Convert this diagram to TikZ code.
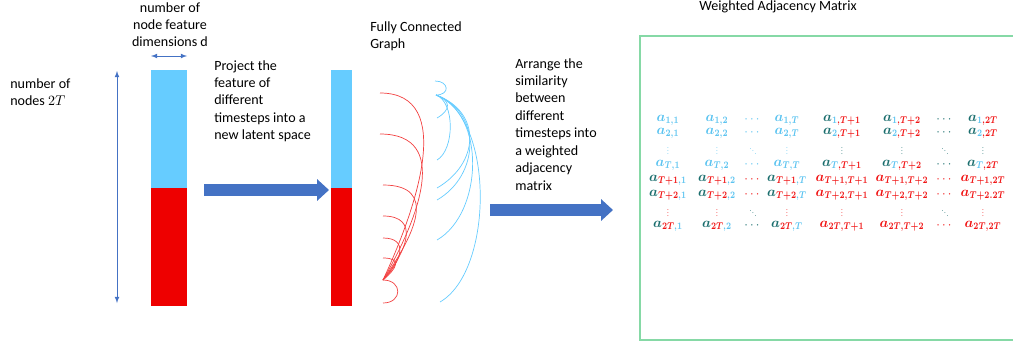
\documentclass[tikz,border=0pt]{standalone}
\usepackage{fontspec}
\setmainfont{Carlito}
\usepackage{amsmath}
\usepackage{bm}
\usetikzlibrary{positioning}
\usetikzlibrary{arrows.meta}
\definecolor{barblue}{HTML}{66CCFF}
\definecolor{barred}{HTML}{EE0000}
\definecolor{cb}{HTML}{5BC3F0}
\definecolor{cr}{HTML}{F01414}
\definecolor{ct}{HTML}{1B6E6E}
\definecolor{arrblue}{HTML}{4472C4}
\definecolor{boxgreen}{HTML}{86D9A6}
\newcommand{\ent}[5]{\textcolor{#1}{\bm{a}}_{\scalebox{0.8}[1]{$\scriptstyle\textcolor{#2}{\bm{#3}}\textcolor{#4}{\bm{#5}}$}}}
\newcommand{\vd}{\scalebox{0.55}{$\vdots$}}
\newcommand{\dd}{\scalebox{0.55}{$\ddots$}}

\begin{document}
\begin{tikzpicture}[x=0.025cm,y=-0.025cm,
  bb/.style={fill=barblue,inner sep=0,minimum height=2.95cm},
  rb/.style={fill=barred,inner sep=0,minimum height=2.95cm},
  txt/.style={align=left,anchor=north west,inner sep=0,font=\fontsize{10}{12.4}\selectfont},
  fa/.style={draw=arrblue,line width=0.28cm,-{Triangle[length=0.3cm,width=0.53cm]}},
  ma/.style={draw=arrblue,line width=0.5pt,latex-latex},
  redge/.style={draw=barred!75,line width=0.5pt},
  bedge/.style={draw=barblue,line width=0.5pt},
  me/.style={inner sep=0,font=\fontsize{10}{11}\selectfont},
  dt/.style={inner sep=0,font=\fontsize{9}{11}\selectfont}]
\useasboundingbox (0,0) rectangle (1013,343);

% input features
\node (in2) [rb,minimum width=0.9cm] at (169,247) {};
\node (in1) [bb,minimum width=0.9cm,above=-0.4pt of in2] {};
\node (dimlbl) [txt,align=center,anchor=north] at (170,2) {number of\\node feature\\dimensions d};
\node (nodelbl) [txt] at (10,78) {number of\\nodes $2T$};
\coordinate (dl) at (151,56);
\coordinate (dr) at (187,56);
\coordinate (nt) at (117,71);
\coordinate (nb) at (117,303);
\draw[ma] (dl) -- (dr);
\draw[ma] (nt) -- (nb);

% projection
\node (projlbl) [txt] at (214,60) {Project the\\feature of\\different\\timesteps into a\\new latent space};
\coordinate (p1s) at (204,190);
\coordinate (p1e) at (329,190);
\draw[fa] (p1s) -- (p1e);
\node (out2) [rb,minimum width=0.525cm] at (341.5,247) {};
\node (out1) [bb,minimum width=0.525cm,above=-0.4pt of out2] {};

% fully connected graph
\node (graphlbl) [txt] at (370,21) {Fully Connected\\Graph};
\coordinate (r1) at (380,93);
\coordinate (r2) at (380,134);
\coordinate (r3) at (383,185);
\coordinate (r4) at (383,216);
\coordinate (r5) at (383,238);
\coordinate (r6) at (383,258);
\coordinate (rh) at (383,280);
\coordinate (r8) at (383,303);
\foreach \n/\lo/\ia in {r1/1.05/65,r2/1.25/60,r3/1.5/55,r4/1.5/50,r5/1.6/45,r6/2.2/40}
  \draw[redge] (\n) to[out=0,in=\ia,looseness=\lo] (rh);
\draw[redge] (rh) to[out=0,in=0,looseness=2.2] (r8);
\coordinate (b0) at (435,81);
\coordinate (bh) at (436,95);
\coordinate (b2) at (437,118);
\coordinate (b3) at (437,160);
\coordinate (b4) at (437,188);
\coordinate (b5) at (437,200);
\coordinate (b6) at (437,240);
\coordinate (b7) at (440,302);
\draw[bedge] (b0) to[out=0,in=0,looseness=2.6] (bh);
\foreach \n/\lo in {b2/1.8,b3/0.8,b4/1.35,b5/1.2,b6/0.94,b7/0.77}
  \draw[bedge] (bh) to[out=-20,in=30,looseness=\lo] (\n);

% arrangement
\node (arrlbl) [txt] at (515,58) {Arrange the\\similarity\\between\\different\\timesteps into\\a weighted\\adjacency\\matrix};
\coordinate (p2s) at (490,210);
\coordinate (p2e) at (613,210);
\draw[fa] (p2s) -- (p2e);

% weighted adjacency matrix
\node (matlbl) [font=\fontsize{10}{12}\selectfont] at (778,7) {Weighted Adjacency Matrix};
\draw[boxgreen,line width=1pt] (1014,36) -- (640,36) -- (640,340) -- (1014,340);
\foreach \r/\y/\i/\p in {1/120/1/cb,2/133/2/cb,4/165/T/cb,5/180/T+1/cr,6/195/T+2/cr,8/226/2T/cr}
  \foreach \c/\x/\j/\q in {1/668/1/cb,2/717/2/cb,4/787/T/cb,5/842/T+1/cr,6/902/T+2/cr,8/983/2T/cr} {
    \ifx\p\q \let\ca\p \else \def\ca{ct}\fi
    \ifnum\r\c=68 \def\sep{.}\else \def\sep{,}\fi
    \node (m\r\c) [me] at (\x,\y) {$\ent{\ca}{\p}{\i}{\q}{\sep\j}$};
  }
\foreach \r/\y/\p/\s in {1/120/cb/ct,2/133/cb/ct,4/165/cb/ct,5/180/cr/cr,6/195/cr/cr,8/226/ct/cr} {
  \node (m\r3) [dt,text=\p] at (753,\y) {$\cdots$};
  \node (m\r7) [dt,text=\s] at (945,\y) {$\cdots$};
}
\foreach \c/\x/\q in {1/668/cb,2/717/cb,4/787/cb,5/842/ct,6/902/ct,8/983/ct} {
  \node (m3\c) [dt,text=\q] at (\x,149) {\vd};
  \node (m7\c) [dt,text=cr] at (\x,211) {\vd};
}
\node (m33) [dt,text=cb] at (753,149) {\dd};
\node (m37) [dt,text=ct] at (945,149) {\dd};
\node (m73) [dt,text=ct] at (753,211) {\dd};
\node (m77) [dt,text=ct] at (945,211) {\dd};
\end{tikzpicture}
\end{document}
